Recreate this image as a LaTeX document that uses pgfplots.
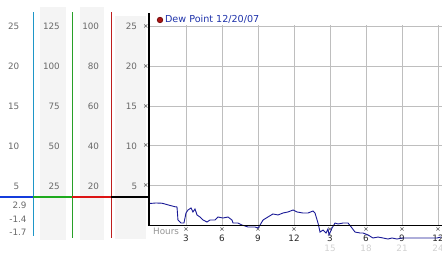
\documentclass[border=0pt]{standalone}
\usepackage{fontspec}
\setmainfont{DejaVu Sans}
\usepackage{pgfplots}
\pgfplotsset{compat=1.18}
\definecolor{lblgray}{RGB}{105,105,105}
\definecolor{colshade}{RGB}{244,244,244}
\definecolor{gridgray}{RGB}{190,190,190}
\definecolor{cyanline}{RGB}{30,150,200}
\definecolor{greenline}{RGB}{40,160,40}
\definecolor{redline}{RGB}{190,30,30}
\definecolor{barblue}{RGB}{20,60,220}
\definecolor{bargreen}{RGB}{30,170,30}
\definecolor{barred}{RGB}{220,20,20}
\definecolor{dewline}{RGB}{25,25,150}
\definecolor{legtext}{RGB}{30,50,170}
\definecolor{dotred}{RGB}{170,20,20}
\newcommand{\numfont}{\fontsize{8.8bp}{10bp}\selectfont}
\newcommand{\legfont}{\fontsize{9.6bp}{11bp}\selectfont}
\newcommand{\mk}{{\fontsize{6.5bp}{6bp}\selectfont\color{black!80} ×}}
\begin{document}
\begin{tikzpicture}
\useasboundingbox (0,0) rectangle (442bp,-253bp);
\begin{scope}[x=1bp,y=1bp]
% shaded columns
\fill[colshade] (40,-7) rectangle (66,-240);
\fill[colshade] (80,-7) rectangle (104,-240);
\fill[colshade] (115,-16) rectangle (146,-239);
% vertical coloured lines
\draw[cyanline, line width=1bp] (33,-12) -- (33,-236);
\draw[greenline, line width=1bp] (72,-12) -- (72,-238);
\draw[redline, line width=1bp] (111,-12) -- (111,-238);
% current value bar
\draw[barblue, line width=2bp] (0,-197) -- (33,-197);
\draw[bargreen, line width=2bp] (33,-197) -- (72,-197);
\draw[barred, line width=2bp] (72,-197) -- (111,-197);
\draw[black, line width=2bp] (111,-197) -- (149,-197);
% scale labels
\foreach \y/\a/\b/\c/\d in {26.7/25/125/100/25, 65.8/20/100/80/20, 106.3/15/75/60/15, 146.2/10/50/40/10, 186.2/5/25/20/5} {
  \node[anchor=east, inner sep=0pt, text=lblgray, font=\numfont] at (19.5,-\y) {\a};
  \node[anchor=east, inner sep=0pt, text=lblgray, font=\numfont] at (60,-\y) {\b};
  \node[anchor=east, inner sep=0pt, text=lblgray, font=\numfont] at (99.3,-\y) {\c};
  \node[anchor=east, inner sep=0pt, text=lblgray, font=\numfont] at (137.3,-\y) {\d};
}
\node[anchor=east, inner sep=0pt, text=lblgray, font=\numfont] at (26.7,-205) {2.9};
\node[anchor=east, inner sep=0pt, text=lblgray, font=\numfont] at (26.7,-219) {-1.4};
\node[anchor=east, inner sep=0pt, text=lblgray, font=\numfont] at (26.7,-232.3) {-1.7};
\node[anchor=west, inner sep=0pt, text=black!42, font=\numfont] at (153,-231.7) {Hours};
\end{scope}
\begin{axis}[
  at={(149bp,-225.5bp)}, anchor=south west,
  scale only axis, width=293bp, height=200.5bp,
  xmin=-0.0833, xmax=24.333, ymin=0, ymax=25.2,
  clip=false,
  axis line style={draw=none},
  major tick length=0pt,
  xmajorgrids, ymajorgrids,
  grid style={gridgray, line width=0.9bp},
  xtick={3,6,9,12,15,18,21,24},
  xticklabels={{\mk\\3},{\mk\\6},{\mk\\9},{\mk\\12},{\mk\\3},{\mk\\6},{\mk\\9},{\mk\\12}},
  xticklabel style={align=center, font=\numfont, text=black!85, inner sep=0pt, yshift=-2bp},
  extra x ticks={15,18,21,24},
  extra x tick labels={15,18,21,24},
  extra x tick style={grid=none, xticklabel style={text=black!18, yshift=-17.5bp}},
  ytick={5,10,15,20,25},
  yticklabels={\mk,\mk,\mk,\mk,\mk},
  yticklabel style={inner sep=0.3bp},
  legend style={at={(0.027,1.025)}, anchor=west, draw=none, fill=none,
    inner sep=0pt, outer sep=0pt, font=\legfont, text=legtext,
    /tikz/every even column/.append style={column sep=0pt}},
  legend cell align=left,
  legend image code/.code={\draw[fill=dotred, draw=black!60!red, line width=0.6bp] (0bp,0bp) circle (2.8bp);},
]
\addplot[dewline, line width=0.9bp] coordinates {
(0,2.77) (0.5,2.83) (1.0,2.8) (1.25,2.7) (1.67,2.52) (2.08,2.36) (2.25,2.33)
(2.33,0.69) (2.58,0.31) (2.83,0.31) (3.0,1.57) (3.17,1.95) (3.42,2.2) (3.58,1.7)
(3.75,2.08) (3.92,1.32) (4.17,1.07) (4.42,0.69) (4.75,0.44) (5.0,0.69) (5.42,0.69)
(5.67,1.07) (6.08,0.94) (6.5,1.07) (6.83,0.69) (6.92,0.31) (7.33,0.31) (7.67,0.06)
(8.17,-0.19) (8.75,-0.19) (9.0,-0.31) (9.17,0.06) (9.42,0.69) (9.83,1.07) (10.25,1.45)
(10.67,1.32) (11.08,1.57) (11.5,1.7) (11.92,1.95) (12.25,1.7) (12.75,1.57) (13.17,1.57)
(13.58,1.82) (13.75,1.57) (14.0,0.31) (14.17,-0.82) (14.42,-0.57) (14.67,-0.94)
(14.83,-0.44) (14.92,-1.19) (15.17,-0.31) (15.42,0.31) (15.67,0.19) (16.08,0.31)
(16.5,0.31) (16.83,-0.31) (17.08,-0.82) (17.5,-0.94) (17.75,-0.94) (18.17,-1.19)
(18.58,-1.57) (19.0,-1.45) (19.42,-1.57) (19.83,-1.7) (20.17,-1.57) (20.58,-1.7)
(21.0,-1.57) (21.42,-1.57) (21.92,-1.57) (22.5,-1.57) (23.08,-1.57) (23.5,-1.57)
(23.92,-1.57) (24.25,-1.45)
};
\addlegendentry{Dew Point 12/20/07}
\end{axis}
\begin{scope}[x=1bp,y=1bp]
\draw[black, line width=1.5bp] (149,-13) -- (149,-225.5);
\draw[black, line width=1.2bp] (149,-225.5) -- (442,-225.5);
\end{scope}
\end{tikzpicture}
\end{document}
